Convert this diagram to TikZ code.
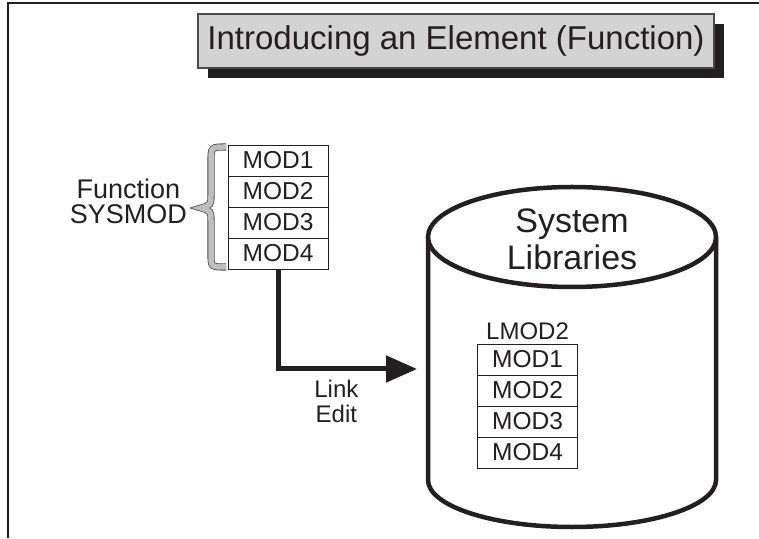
\documentclass[tikz,border=0pt]{standalone}
\usepackage{fontspec}
\setmainfont{Liberation Sans}
\usetikzlibrary{arrows.meta,positioning,shadows}
\definecolor{ink}{HTML}{231F20}
\definecolor{titlefill}{HTML}{D3D3D3}
\definecolor{bord}{HTML}{4A4A4A}
\definecolor{bracefill}{HTML}{BEBEBE}

\begin{document}
\begin{tikzpicture}[
  x=1pt, y=1pt,
  title/.style={draw=bord, line width=1.2pt, fill=titlefill, text=ink, minimum width=516pt, minimum height=54pt, inner sep=0pt,
    font=\fontsize{33}{38}\selectfont, general shadow={fill=ink, shadow xshift=10pt, shadow yshift=-10pt}},
  mod/.style={draw=ink, line width=0.9pt, minimum width=100pt, minimum height=31pt, inner sep=0pt, outer sep=0pt,
    text=ink, font=\fontsize{24.5}{26}\selectfont},
  lbl/.style={text=ink, align=center, inner sep=0pt},
  cyl/.style={draw=ink, line width=4.5pt},
  link/.style={draw=ink, line width=5pt, -{Triangle[length=31pt, width=26pt]}},
  brace/.style={draw=bord, line width=0.8pt, double=bracefill, double distance=5.5pt},
]
\useasboundingbox (0,0) rectangle (759,538);
% page frame
\draw[ink, line width=1.8pt] (8,0) -- (8,535) -- (759,535);

% title banner
\node[title] (title) at (456,497) {Introducing an Element (Function)};

% --- function sysmod: stacked modules with brace ---
\node[mod] (fmod1) at (278,377.5) {MOD1};
\node[mod, below=0pt of fmod1] (fmod2) {MOD2};
\node[mod, below=0pt of fmod2] (fmod3) {MOD3};
\node[mod, below=0pt of fmod3] (fmod4) {MOD4};
\draw[brace] (226,391) .. controls (211,391) .. (211,376) -- (211,343)
  .. controls (211,333) .. (201,330) .. controls (211,327) .. (211,317)
  -- (211,284) .. controls (211,271) .. (226,271);
\node[lbl, anchor=east, font=\fontsize{27}{25}\selectfont] (fsys) at (187,337) {Function\\SYSMOD};

% --- system libraries cylinder ---
\draw[cyl, fill=white] (428,301) -- (428,58) arc[start angle=180, end angle=360, x radius=144, y radius=47] -- (716,301);
\draw[cyl, fill=white] (572,301) ellipse[x radius=144, y radius=50];
\node[lbl, font=\fontsize{34}{37}\selectfont] (syslib) at (572,299) {System\\Libraries};

% load module inside the library
\node[mod] (imod1) at (527.5,178.5) {MOD1};
\node[mod, below=0pt of imod1] (imod2) {MOD2};
\node[mod, below=0pt of imod2] (imod3) {MOD3};
\node[mod, below=0pt of imod3] (imod4) {MOD4};
\node[lbl, above=4pt of imod1, font=\fontsize{24}{26}\selectfont] (lmod) {LMOD2};

% --- link edit into the library ---
\coordinate (libin) at (417,169);
\draw[link] (fmod4.south) |- (libin)
  node[lbl, pos=0.71, below=9pt, font=\fontsize{24}{25}\selectfont] (linkedit) {Link\\Edit};
\end{tikzpicture}
\end{document}
